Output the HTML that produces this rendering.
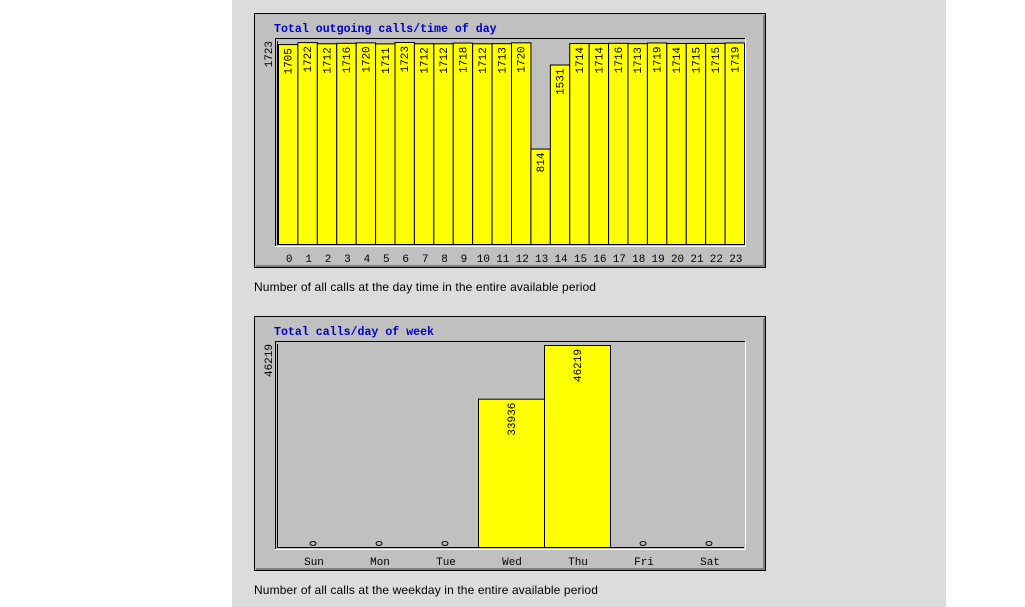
<!DOCTYPE html>
<html><head><meta charset="utf-8"><style>
html,body{margin:0;padding:0;background:#fff;width:1025px;height:607px;overflow:hidden}
#panel{position:absolute;left:232px;top:0;width:714px;height:607px;background:#dcdcdc}
.cap{position:absolute;left:254px;font:12px "Liberation Sans",sans-serif;color:#000;letter-spacing:0.12px}
svg{position:absolute;left:0;top:0}
</style></head><body>
<div id="panel"></div>
<div class="cap" style="top:280px">Number of all calls at the day time in the entire available period</div>
<div class="cap" style="top:583px">Number of all calls at the weekday in the entire available period</div>
<svg id="s" width="1025" height="607" xmlns="http://www.w3.org/2000/svg" font-family="Liberation Mono, monospace"></svg>
<script>
var s=document.getElementById('s'),h='';
function frame(y0,title){
 h+='<rect x="254.5" y="'+(y0+0.5)+'" width="511" height="254" fill="#c0c0c0" stroke="#000"/>';
 h+='<rect x="256" y="'+(y0+252)+'" width="509" height="2" fill="#808080"/><rect x="763" y="'+(y0+2)+'" width="2" height="252" fill="#808080"/>';
 h+='<text x="274" y="'+(y0+19)+'" font-size="11.6" font-weight="bold" fill="#0000c0">'+title+'</text>';
 h+='<rect x="275.5" y="'+(y0+25.5)+'" width="470" height="208" fill="#c0c0c0" stroke="#fff"/>';
 h+='<path d="M275.5 '+(y0+233)+'V'+(y0+25.5)+'H745" stroke="#000" fill="none"/>';
 h+='<path d="M277.5 '+(y0+28)+'V'+(y0+231.5)+'H744" stroke="#000" fill="none"/>';
}
function vt(x,y,t,anchor){h+='<text transform="translate('+x+','+y+') rotate(-90)" font-size="11" text-anchor="'+anchor+'">'+t+'</text>';}
frame(13,'Total outgoing calls/time of day');
var d=[1705,1722,1712,1716,1720,1711,1723,1712,1712,1718,1712,1713,1720,814,1531,1714,1714,1716,1713,1719,1714,1715,1715,1719];
var w=(744-278)/24;
vt(272,41,'1723','end');
for(var i=0;i<24;i++){var x=278+i*w,ht=d[i]/1723*202,y=244-ht;
 h+='<rect x="'+(x+0.5)+'" y="'+(y+0.5)+'" width="'+w+'" height="'+ht+'" fill="#ffff00" stroke="#000"/>';
 vt(x+w/2+4,y+4,d[i],'end');
 h+='<text x="'+(x+w/2+1.5)+'" y="262" font-size="11" text-anchor="middle">'+i+'</text>';}
frame(316,'Total calls/day of week');
vt(272,344,'46219','end');
var days=['Sun','Mon','Tue','Wed','Thu','Fri','Sat'],v=[0,0,0,33936,46219,0,0];
for(var i=0;i<7;i++){var x=280+i*66,c=x+33;
 if(v[i]){var ht=v[i]/46219*202,y=547-ht;
  h+='<rect x="'+(x+0.5)+'" y="'+(y+0.5)+'" width="66" height="'+ht+'" fill="#ffff00" stroke="#000"/>';
  vt(c+4,y+4,v[i],'end');}
 else h+='<ellipse cx="'+c+'" cy="543.5" rx="3" ry="2" fill="none" stroke="#000"/>';
 h+='<text x="'+(c+1)+'" y="565" font-size="11" text-anchor="middle">'+days[i]+'</text>';}
s.innerHTML=h;
</script>
</body></html>
